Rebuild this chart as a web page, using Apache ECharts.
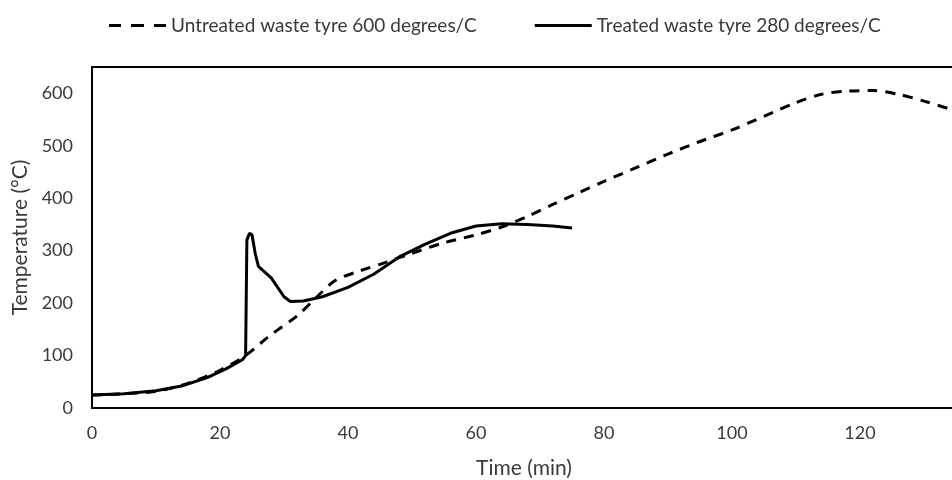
<!DOCTYPE html>
<html>
<head>
<meta charset="utf-8">
<script src="https://cdn.jsdelivr.net/npm/echarts@6/dist/echarts.min.js"></script>
<style>
  html, body { margin: 0; padding: 0; background: #fff; }
  #chart { width: 952px; height: 480px; }
</style>
</head>
<body>
<div id="chart"></div>
<script>
// time (min), temperature (degC)
const untreatedTime = [0, 5, 10, 15, 20, 24, 28, 32, 35, 38, 42, 46, 50, 55, 60, 64, 68, 72, 76, 80, 85, 90, 95, 100, 105, 110, 114, 118, 122, 126, 130, 134, 138, 140]
const untreatedTemp = [25, 27, 32, 47, 72, 100, 140, 175, 210, 243, 262, 278, 295, 315, 330, 345, 365, 388, 410, 432, 458, 484, 508, 530, 556, 582, 598, 604, 605, 598, 585, 570, 555, 548]

const treatedTime = [0, 5, 10, 14, 18, 21, 23.5, 24, 24.2, 24.6, 25, 25.5, 26, 28, 30, 31, 33, 36, 40, 44, 48, 52, 56, 60, 64, 68, 72, 75]
const treatedTemp = [25, 27, 33, 42, 58, 75, 92, 100, 320, 333, 330, 295, 270, 248, 212, 203, 204, 212, 230, 255, 288, 312, 333, 347, 351, 350, 347, 343]

const seriesNames = ['Untreated waste tyre 600 degrees/C', 'Treated waste tyre 280 degrees/C']

const pairs = (xs, ys) => xs.map((x, i) => [x, ys[i]])

const textColor = '#3a3a3a'
const font = 'Lato'

const myChart = echarts.init(document.getElementById('chart'))
const option = {
  animation: false,
  textStyle: { fontFamily: font },
  legend: {
    data: [
      { name: seriesNames[0], icon: 'path://M0,0h12v3h-12z M22,0h13v3h-13z M45,0h12v3h-12z' },
      { name: seriesNames[1], icon: 'path://M0,0h57v3h-57z' }
    ],
    left: 104,
    top: 11,
    itemWidth: 57,
    itemHeight: 3,
    itemGap: 58,
    itemStyle: { color: '#000' },
    textStyle: { color: textColor, fontSize: 19, fontFamily: font }
  },
  grid: {
    left: 92,
    top: 67,
    bottom: 72,
    width: 896,
    outerBoundsMode: 'none',
    show: true,
    borderColor: '#000',
    borderWidth: 2,
    containLabel: false
  },
  xAxis: {
    type: 'value',
    min: 0,
    max: 140,
    interval: 20,
    name: 'Time (min)',
    nameLocation: 'middle',
    nameGap: 50,
    nameTextStyle: { color: textColor, fontSize: 21, fontFamily: font, padding: [0, 32, 0, 0] },
    axisLine: { show: false },
    axisTick: { show: false },
    splitLine: { show: false },
    axisLabel: { color: textColor, fontSize: 18, fontFamily: font, margin: 16 }
  },
  yAxis: {
    type: 'value',
    min: 0,
    max: 650,
    interval: 100,
    name: 'Temperature (°C)',
    nameLocation: 'middle',
    nameGap: 55,
    nameTextStyle: { color: textColor, fontSize: 21, fontFamily: font },
    axisLine: { show: false },
    axisTick: { show: false },
    splitLine: { show: false },
    axisLabel: { color: textColor, fontSize: 18, fontFamily: font, margin: 19, showMaxLabel: false }
  },
  series: [
    {
      name: seriesNames[0],
      type: 'line',
      showSymbol: false,
      symbol: 'none',
      smooth: 0.3,
      lineStyle: { color: '#000', width: 3, type: [10, 8] },
      itemStyle: { color: '#000' },
      data: pairs(untreatedTime, untreatedTemp)
    },
    {
      name: seriesNames[1],
      type: 'line',
      showSymbol: false,
      symbol: 'none',
      lineStyle: { color: '#000', width: 3 },
      itemStyle: { color: '#000' },
      data: pairs(treatedTime, treatedTemp)
    }
  ]
}
myChart.setOption(option)
</script>
</body>
</html>
